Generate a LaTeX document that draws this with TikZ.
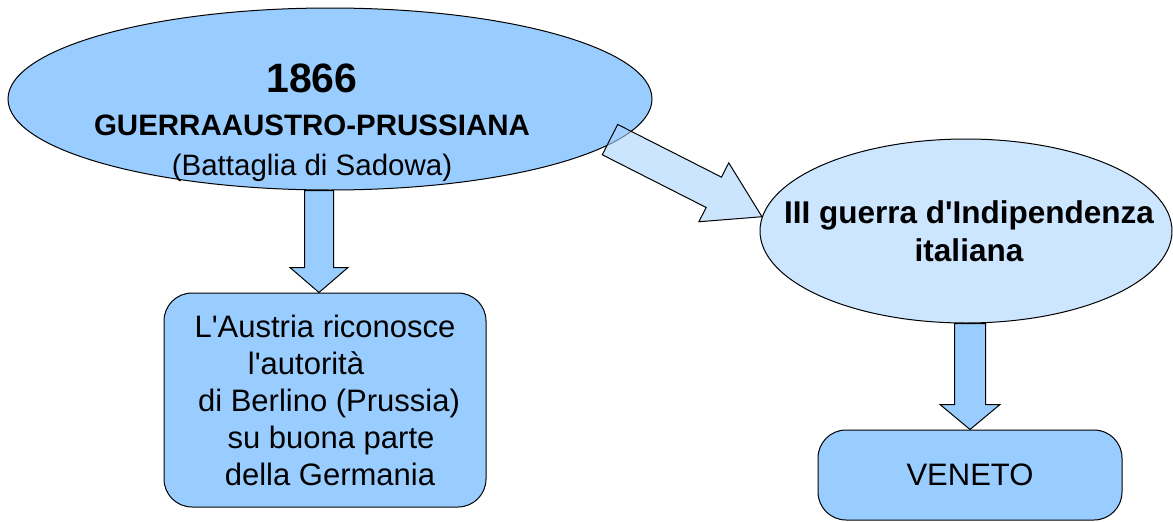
\documentclass[tikz,border=0pt]{standalone}
\usepackage{fontspec}
\setmainfont{Liberation Sans}
\usetikzlibrary{shapes.geometric, calc, positioning}

\definecolor{midblue}{HTML}{99CCFF}
\definecolor{paleblue}{HTML}{CCE6FF}
\definecolor{glassblue}{HTML}{AAD4FF}

% block arrow: style, tail, tip, shaft half width, head half width, head length
\newcommand{\bigarrow}[6]{%
  \coordinate (arrowbase) at ($(#3)!#6!(#2)$);
  \draw[#1] ($(#2)!#4!90:(#3)$) -- ($(arrowbase)!#4!-90:(#2)$) -- ($(arrowbase)!#5!-90:(#2)$)
    -- (#3) -- ($(arrowbase)!#5!90:(#2)$) -- ($(arrowbase)!#4!90:(#2)$)
    -- ($(#2)!#4!-90:(#3)$) -- cycle;}
\newcommand{\q}{\textquotesingle}

\begin{document}
\begin{tikzpicture}[x=1pt, y=-1pt, line width=1pt,
  oval/.style={ellipse, draw, fill=#1, inner sep=0},
  card/.style={rectangle, rounded corners=28pt, draw, fill=midblue, align=center, inner sep=0},
  flow/.style={draw, fill=midblue, line join=miter},
  glass/.style={draw, fill=glassblue, fill opacity=0.6, line join=miter}]

  \useasboundingbox (0,0) rectangle (1173,522);

  \node[oval=midblue, minimum width=644pt, minimum height=182pt] (guerra) at (330,99) {};
  \node[align=center, inner sep=0, font=\fontsize{29.5}{40}\selectfont] (guerratxt)
    at ([xshift=-18pt, yshift=-24pt]guerra.center)
    {{\fontsize{41}{41}\selectfont\bfseries 1866}\\[3pt]
     {\bfseries GUERRAAUSTRO-PRUSSIANA}\\
     (Battaglia di Sadowa)};

  \node[oval=paleblue, minimum width=412pt, minimum height=184pt] (terza) at (966,231) {};
  \node[align=center, inner sep=0, font=\fontsize{31.5}{38}\selectfont\bfseries] (terzatxt)
    at ([xshift=3pt]terza.center) {III guerra d\q Indipendenza\\ italiana};

  \node[card, minimum width=322pt, minimum height=214pt, font=\fontsize{31}{37}\selectfont]
    (austria) at (325,400)
    {L\q Austria riconosce\\ l\q autorità\hbox to 38pt{}\\ \hbox to 8pt{}di Berlino (Prussia)\\
     \hbox to 12pt{}su buona parte\\ \hbox to 10pt{}della Germania};

  \node[card, minimum width=304pt, minimum height=90pt, font=\fontsize{31}{37}\selectfont]
    (veneto) at (970,475) {VENETO};

  \coordinate (lefttip) at ([xshift=-6pt]austria.north);
  \coordinate (lefttail) at (lefttip |- guerra.south);
  \coordinate (righttail) at (veneto.north |- terza.south);
  \coordinate (diagtail) at ([xshift=-9pt]guerra.-8);
  \coordinate (diagtip) at (terza.176);

  \bigarrow{flow}{lefttail}{lefttip}{14.5pt}{29pt}{25pt}
  \bigarrow{flow}{righttail}{veneto.north}{15.5pt}{30pt}{25pt}
  \bigarrow{glass}{diagtail}{diagtip}{17pt}{33pt}{54pt}
\end{tikzpicture}
\end{document}
